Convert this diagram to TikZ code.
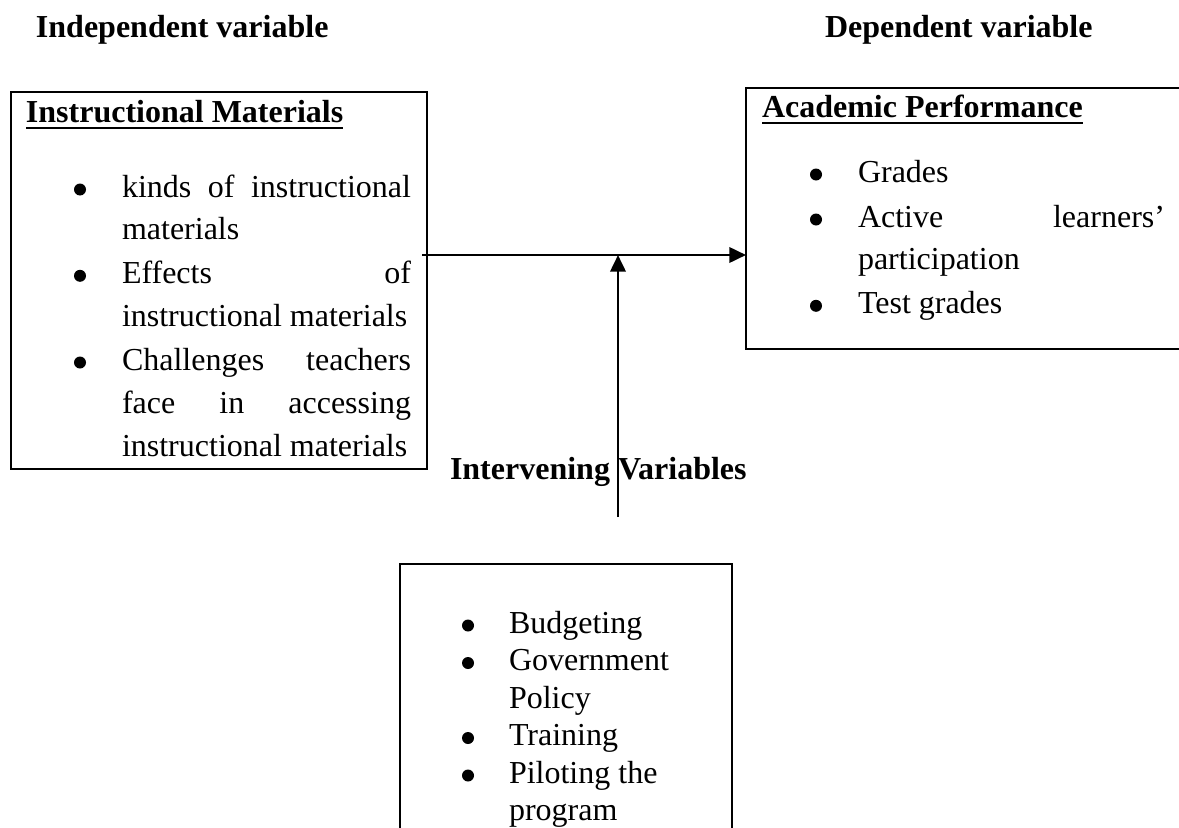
\documentclass[tikz,border=0pt]{standalone}
\usepackage{fontspec}
\setmainfont{Liberation Serif}
\usetikzlibrary{arrows.meta,calc}
\newcommand{\jline}[2]{\makebox[#1][s]{#2}}
\begin{document}
\begin{tikzpicture}[x=0.75pt,y=-0.75pt,
  txt/.style={font=\fontsize{24}{28}\selectfont, inner sep=0pt, outer sep=0pt, anchor=base west},
  hd/.style={txt, font=\fontsize{24}{28}\selectfont\bfseries},
  box/.style={draw, line width=2.1pt, inner sep=0pt, outer sep=0pt, anchor=north west},
  dot/.style={circle, fill, inner sep=0pt, outer sep=0pt, minimum size=9pt},
  arr/.style={line width=2pt, -{Triangle[length=12.5pt,width=11.5pt]}},
  ul/.style={line width=2pt}]
\clip (0,0) rectangle (1179,828);
\fill[white] (0,0) rectangle (1179,828);

% headings
\node[hd] (ind) at (36,37) {Independent variable};
\node[hd] (dep) at (825,37) {Dependent variable};
\node[hd] (inter) at (450,479) {Intervening Variables};

% boxes
\node[box, minimum width=312pt, minimum height=282.75pt] (lbox) at (11,92) {};
\node[box, minimum width=336.75pt, minimum height=195.75pt] (rbox) at (746,88) {};
\node[box, minimum width=249pt, minimum height=210.75pt] (bbox) at (400,564) {};

% left box content
\node[hd] (lt) at (26,122) {Instructional Materials};
\draw[ul] ($(lt.base west)+(0,6)$) -- ($(lt.base east)+(0,6)$);
\node[dot] (lb1) at (80,189.5) {};
\node[dot] (lb2) at (80,275.8) {};
\node[dot] (lb3) at (80,362.5) {};
\node[txt] (l1) at (122,197) {\jline{216.75pt}{kinds\hfill of\hfill instructional}};
\node[txt] (l2) at (122,239.5) {materials};
\node[txt] (l3) at (122,283) {\jline{216.75pt}{Effects\hfill of}};
\node[txt] (l4) at (122,326.5) {instructional materials};
\node[txt] (l5) at (122,370) {\jline{216.75pt}{Challenges\hfill teachers}};
\node[txt] (l6) at (122,413) {\jline{216.75pt}{face\hfill in\hfill accessing}};
\node[txt] (l7) at (122,456) {instructional materials};

% right box content
\node[hd] (rt) at (762,117) {Academic Performance};
\draw[ul] ($(rt.base west)+(0,6)$) -- ($(rt.base east)+(0,6)$);
\node[dot] (rb1) at (816,174.5) {};
\node[dot] (rb2) at (816,219.5) {};
\node[dot] (rb3) at (816,305.8) {};
\node[txt] (r1) at (858,182) {Grades};
\node[txt] (r2) at (858,227) {\jline{230.25pt}{Active\hfill learners’}};
\node[txt] (r3) at (858,269) {participation};
\node[txt] (r4) at (858,313) {Test grades};

% bottom box content
\node[dot] (bb1) at (468,625.5) {};
\node[dot] (bb2) at (468,663) {};
\node[dot] (bb3) at (468,738) {};
\node[dot] (bb4) at (468,775.5) {};
\node[txt] (b1) at (509,633) {Budgeting};
\node[txt] (b2) at (509,670.5) {Government};
\node[txt] (b3) at (509,708) {Policy};
\node[txt] (b4) at (509,745.5) {Training};
\node[txt] (b5) at (509,783) {Piloting the};
\node[txt] (b6) at (509,820.5) {program};

% connectors
\coordinate (hstart) at (422,255);
\coordinate (junc) at (618,255);
\coordinate (vstart) at (618,517);
\draw[arr] (hstart) -- (rbox.west |- hstart);
\draw[arr] (vstart) -- (junc);
\end{tikzpicture}
\end{document}
